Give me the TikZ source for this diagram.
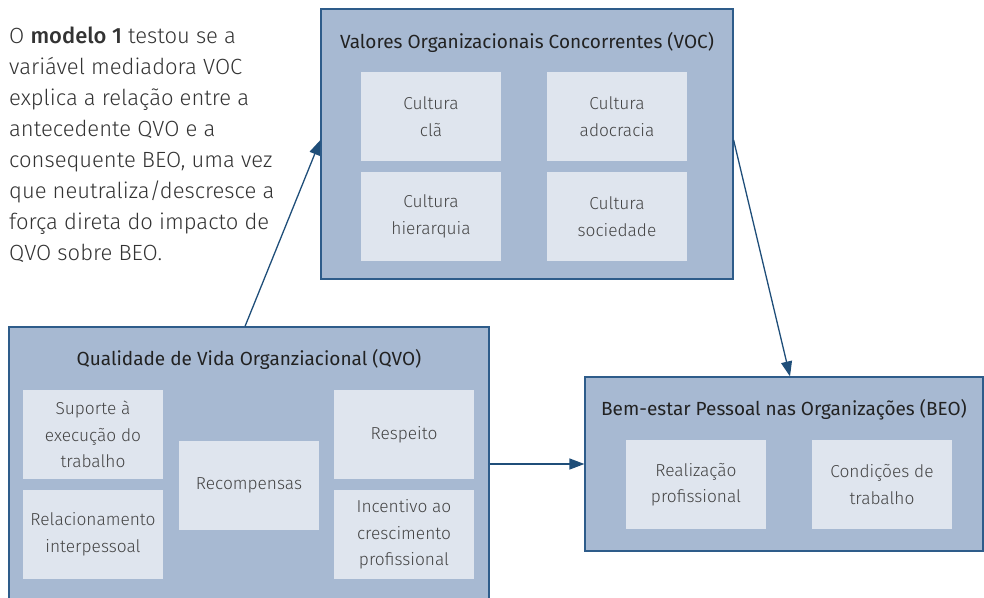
\documentclass[tikz,border=0pt]{standalone}
\usepackage{fontspec}
\setmainfont{Fira Sans}[UprightFont=* Light, BoldFont=* Medium]
\newfontfamily\titlefont{Fira Sans}
\usetikzlibrary{arrows.meta}
\definecolor{outerfill}{HTML}{A7B9D2}
\definecolor{outerline}{HTML}{2E5C8A}
\definecolor{innerfill}{HTML}{DFE5EE}
\definecolor{arrowcol}{HTML}{1F4E79}
\definecolor{titletext}{HTML}{222222}
\definecolor{innertext}{HTML}{444444}
\definecolor{bodytext}{HTML}{333333}
\tikzset{
  outerbox/.style={draw=outerline, fill=outerfill, line width=1.2pt, inner sep=0pt},
  innerbox/.style={fill=innerfill, minimum width=140pt, minimum height=89pt, inner sep=2pt,
    align=center, text=innertext, font=\fontsize{17.3}{26.5}\selectfont},
  boxtitle/.style={text=titletext, inner sep=0pt, font=\titlefont\fontsize{19}{23}\selectfont},
  arr/.style={draw=arrowcol, line width=1.3pt, -{Triangle[length=15pt,width=11pt]}}
}
\begin{document}
\begin{tikzpicture}[x=1pt,y=-1pt]
\useasboundingbox (0,0) rectangle (984,597);

% explanatory paragraph
\node[anchor=north west, inner sep=0pt, align=left, text=bodytext,
  font=\fontsize{22}{31}\selectfont] (para) at (9,27)
  {O \textbf{modelo 1} testou se a\\
   variável mediadora VOC\\
   explica a relação entre a\\
   antecedente QVO e a\\
   consequente BEO, uma vez\\
   que neutraliza/descresce a\\
   força direta do impacto de\\
   QVO sobre BEO.};

% mediator: VOC
\node[outerbox, minimum width=412pt, minimum height=270pt] (voc) at (527,144) {};
\node[boxtitle] (voct) at (527,42) {Valores Organizacionais Concorrentes (VOC)};
\node[innerbox] (c1) at (431,116.5) {Cultura\\clã};
\node[innerbox] (c2) at (617,116.5) {Cultura\\adocracia};
\node[innerbox] (c3) at (431,216.5) {Cultura\\hierarquia};
\node[innerbox] (c4) at (617,216.5) {Cultura\\sociedade};

% antecedent: QVO
\node[outerbox, minimum width=480pt, minimum height=290pt] (qvo) at (249,472) {};
\node[boxtitle] (qvot) at (249,359) {Qualidade de Vida Organziacional (QVO)};
\node[innerbox] (q1) at (93,434.5) {Suporte à\\execução do\\trabalho};
\node[innerbox] (q2) at (93,534.5) {Relacionamento\\interpessoal};
\node[innerbox] (q3) at (249,485.5) {Recompensas};
\node[innerbox] (q4) at (404,434.5) {Respeito};
\node[innerbox] (q5) at (404,534.5) {Incentivo ao\\crescimento\\profissional};

% consequent: BEO
\node[outerbox, minimum width=398pt, minimum height=174pt] (beo) at (784,464) {};
\node[boxtitle] (beot) at (784,410) {Bem-estar Pessoal nas Organizações (BEO)};
\node[innerbox] (b1) at (696,484.5) {Realização\\profissional};
\node[innerbox] (b2) at (882,484.5) {Condições de\\trabalho};

% paths of the model
\draw[arr] ([xshift=-4pt]qvo.north) -- ([yshift=4pt]voc.west);
\draw[arr] ([yshift=4pt]voc.east) -- ([xshift=6pt]beo.north);
\draw[arr] (qvo.east |- beo.west) -- (beo.west);
\end{tikzpicture}
\end{document}
